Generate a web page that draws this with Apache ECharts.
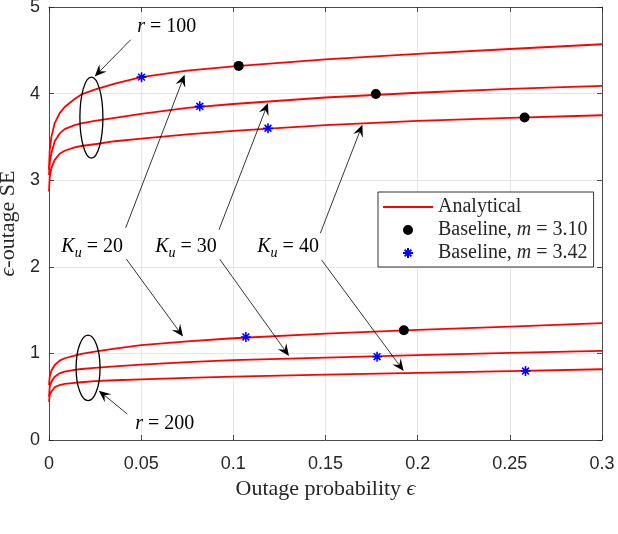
<!DOCTYPE html>
<html>
<head>
<meta charset="utf-8">
<script src="https://cdn.jsdelivr.net/npm/echarts@6/dist/echarts.min.js"></script>
<style>html,body{margin:0;padding:0;background:#fff;}#c{width:618px;height:534px;}</style>
</head>
<body>
<div id="c"></div>
<script>
// ---- data ----
const EPS = [0, 0.0004, 0.0013, 0.0031, 0.0058, 0.0085, 0.0139, 0.0176, 0.0248, 0.0357, 0.05, 0.075, 0.1, 0.15, 0.2, 0.25, 0.3];
const SE_R100_K20 = [3.12, 3.35, 3.50, 3.66, 3.775, 3.845, 3.937, 3.99, 4.045, 4.115, 4.19, 4.265, 4.315, 4.395, 4.458, 4.515, 4.57];
const SE_R100_K30 = [3.06, 3.20, 3.31, 3.45, 3.54, 3.59, 3.635, 3.655, 3.685, 3.72, 3.765, 3.835, 3.88, 3.955, 4.01, 4.055, 4.09];
const SE_R100_K40 = [2.87, 3.04, 3.14, 3.235, 3.305, 3.34, 3.38, 3.395, 3.415, 3.45, 3.48, 3.53, 3.57, 3.635, 3.685, 3.72, 3.75];
const SE_R200_K20 = [0.635, 0.73, 0.80, 0.866, 0.916, 0.944, 0.974, 0.994, 1.02, 1.055, 1.095, 1.14, 1.175, 1.228, 1.272, 1.31, 1.35];
const SE_R200_K30 = [0.50, 0.616, 0.674, 0.73, 0.77, 0.79, 0.81, 0.82, 0.833, 0.85, 0.87, 0.90, 0.922, 0.952, 0.98, 1.005, 1.03];
const SE_R200_K40 = [0.44, 0.52, 0.56, 0.61, 0.635, 0.647, 0.66, 0.667, 0.68, 0.69, 0.70, 0.718, 0.732, 0.755, 0.775, 0.795, 0.817];
const DOT_EPS = [0.1029, 0.1773, 0.258, 0.1925];
const DOT_SE = [4.32, 3.995, 3.725, 1.268];
const STAR_EPS = [0.0502, 0.0818, 0.1188, 0.1068, 0.178, 0.2585];
const STAR_SE = [4.19, 3.853, 3.60, 1.19, 0.962, 0.797];
const X_TICKS = [0, 0.05, 0.1, 0.15, 0.2, 0.25, 0.3];
const Y_TICKS = [0, 1, 2, 3, 4, 5];

// annotation anchors (data units)
const ARROWS = [
  [0.0443, 4.622, 0.0248, 4.198],
  [0.0425, 0.300, 0.0270, 0.570],
  [0.0416, 2.450, 0.0736, 4.218],
  [0.0420, 2.088, 0.0727, 1.194],
  [0.0922, 2.427, 0.1188, 3.891],
  [0.0926, 2.088, 0.1302, 0.971],
  [0.1472, 2.388, 0.1700, 3.640],
  [0.1478, 2.080, 0.1924, 0.797]
];
const ELLIPSES = [
  [0.0230, 3.723, 0.00624, 0.468],
  [0.0212, 0.832, 0.0065, 0.378]
];
const LABELS = [
  [0.0639, 4.77, '{i|r}{n| = 100}'],
  [0.0628, 0.185, '{i|r}{n| = 200}'],
  [0.0234, 2.234, '{i|K}{s|u}{n| = 20}'],
  [0.0743, 2.234, '{i|K}{s|u}{n| = 30}'],
  [0.1297, 2.234, '{i|K}{s|u}{n| = 40}']
];

const SERIF = "'Liberation Serif','DejaVu Serif',serif";
const SANS = "'Liberation Sans',Arial,sans-serif";
const AX = '#262626';

function pairs(xs, ys) { return xs.map((x, i) => [x, ys[i]]); }
const curves = [SE_R100_K20, SE_R100_K30, SE_R100_K40, SE_R200_K20, SE_R200_K30, SE_R200_K40];

const chart = echarts.init(document.getElementById('c'), null, {renderer: 'canvas'});

const lineSeries = curves.map(c => ({
  name: 'Analytical', type: 'line', data: pairs(EPS, c),
  symbol: 'none', smooth: false,
  lineStyle: {color: '#ff0000', width: 1.8, join: 'round'}, itemStyle: {color: '#ff0000'},
  z: 3, silent: true, animation: false
}));

const STAR = 'path://M5 0 L5 10 M0 5 L10 5 M1.6 1.6 L8.4 8.4 M1.6 8.4 L8.4 1.6';

const tickStyle = {show: true, inside: true, length: 5, lineStyle: {color: AX, width: 0.8}};
const lineStyleAx = {show: true, onZero: false, lineStyle: {color: AX, width: 0.8}};

const option = {
  animation: false,
  grid: {left: 49, right: 16, top: 7, bottom: 94, containLabel: false, outerBoundsMode: 'none'},
  xAxis: [{
    type: 'value', min: 0, max: 0.3, interval: 0.05,
    name: 'Outage probability {i|ϵ}', nameLocation: 'middle', nameGap: 37,
    nameTextStyle: {fontFamily: SERIF, fontSize: 22, color: AX,
      rich: {i: {fontFamily: SERIF, fontSize: 22, fontStyle: 'italic', color: AX}}},
    axisLine: lineStyleAx, axisTick: tickStyle,
    axisLabel: {fontFamily: SANS, fontSize: 18, color: AX, margin: 15,
      formatter: v => { const t = X_TICKS.find(k => Math.abs(k - v) < 1e-9); return t === undefined ? '' : String(t); }},
    splitLine: {show: true, lineStyle: {color: '#dfdfdf', width: 0.8}}
  }, {
    type: 'value', min: 0, max: 0.3, interval: 0.05, position: 'top',
    axisLine: lineStyleAx, axisTick: tickStyle,
    axisLabel: {show: false}, splitLine: {show: false}
  }],
  yAxis: [{
    type: 'value', min: 0, max: 5, interval: 1,
    name: '{i|ϵ}-outage SE', nameLocation: 'middle', nameGap: 29,
    nameTextStyle: {fontFamily: SERIF, fontSize: 22, color: AX,
      rich: {i: {fontFamily: SERIF, fontSize: 22, fontStyle: 'italic', color: AX}}},
    axisLine: lineStyleAx, axisTick: tickStyle,
    axisLabel: {fontFamily: SANS, fontSize: 18, color: AX, margin: 9,
      formatter: v => { const t = Y_TICKS.find(k => Math.abs(k - v) < 1e-9); return t === undefined ? '' : String(t); }},
    splitLine: {show: true, lineStyle: {color: '#dfdfdf', width: 0.8}}
  }, {
    type: 'value', min: 0, max: 5, interval: 1, position: 'right',
    axisLine: lineStyleAx, axisTick: tickStyle,
    axisLabel: {show: false}, splitLine: {show: false}
  }],
  legend: {
    orient: 'vertical', left: 378, top: 192,
    padding: [4, 6, 3, 4], itemGap: 1, itemWidth: 50, itemHeight: 10,
    backgroundColor: '#fff', borderColor: '#000', borderWidth: 0.8,
    data: [
      {name: 'Analytical', itemStyle: {opacity: 0}},
      {name: 'Baseline, m = 3.10'},
      {name: 'Baseline, m = 3.42'}
    ],
    formatter: name => {
      if (name === 'Analytical') return '{n|Analytical}';
      const parts = name.split('m');
      return '{n|' + parts[0] + '}{i|m}{n|' + parts[1] + '}';
    },
    textStyle: {fontFamily: SERIF, fontSize: 20, color: AX, lineHeight: 22,
      rich: {n: {fontFamily: SERIF, fontSize: 20, color: AX, lineHeight: 22},
             i: {fontFamily: SERIF, fontSize: 20, fontStyle: 'italic', color: AX, lineHeight: 22}}}
  },
  series: lineSeries.concat([
    {name: 'Baseline, m = 3.10', type: 'scatter', data: pairs(DOT_EPS, DOT_SE),
     symbol: 'circle', symbolSize: 10, itemStyle: {color: '#000', opacity: 1}, z: 5},
    {name: 'Baseline, m = 3.42', type: 'scatter', data: pairs(STAR_EPS, STAR_SE),
     symbol: STAR, symbolSize: 10,
     itemStyle: {color: 'rgba(0,0,0,0)', borderColor: '#0000ff', borderWidth: 1.6, opacity: 1}, z: 5}
  ])
};
chart.setOption(option);

function px(x, y) { return chart.convertToPixel({gridIndex: 0}, [x, y]); }
const els = [];
ARROWS.forEach(a => {
  const p1 = px(a[0], a[1]), p2 = px(a[2], a[3]);
  const dx = p2[0] - p1[0], dy = p2[1] - p1[1];
  const len = Math.hypot(dx, dy), ux = dx / len, uy = dy / len;
  const nx = -uy, ny = ux;
  const L = 12, W = 5.2, N = 0.62 * L;
  const notch = [p2[0] - ux * N, p2[1] - uy * N];
  els.push({type: 'line', silent: true, z: 10,
    shape: {x1: p1[0], y1: p1[1], x2: notch[0], y2: notch[1]},
    style: {stroke: '#000', lineWidth: 0.8}});
  els.push({type: 'polygon', silent: true, z: 10,
    shape: {points: [
      [p2[0], p2[1]],
      [p2[0] - ux * L + nx * W, p2[1] - uy * L + ny * W],
      notch,
      [p2[0] - ux * L - nx * W, p2[1] - uy * L - ny * W]
    ]}, style: {fill: '#000'}});
});
ELLIPSES.forEach(e => {
  const c = px(e[0], e[1]);
  const r = px(e[0] + e[2], e[1] + e[3]);
  els.push({type: 'ellipse', silent: true, z: 10,
    shape: {cx: c[0], cy: c[1], rx: Math.abs(r[0] - c[0]), ry: Math.abs(c[1] - r[1])},
    style: {fill: 'none', stroke: '#000', lineWidth: 1.3}});
});
LABELS.forEach(l => {
  const p = px(l[0], l[1]);
  els.push({type: 'text', silent: true, z: 10, x: p[0], y: p[1],
    style: {text: l[2], align: 'center', verticalAlign: 'middle',
      fontFamily: SERIF, fontSize: 20, fill: '#000',
      rich: {
        n: {fontFamily: SERIF, fontSize: 20, fill: '#000', lineHeight: 28},
        i: {fontFamily: SERIF, fontSize: 20, fontStyle: 'italic', fill: '#000', lineHeight: 28},
        s: {fontFamily: SERIF, fontSize: 14, fontStyle: 'italic', fill: '#000', lineHeight: 16, verticalAlign: 'bottom'}
      }}});
});
chart.setOption({graphic: {elements: els}});
</script>
</body>
</html>
